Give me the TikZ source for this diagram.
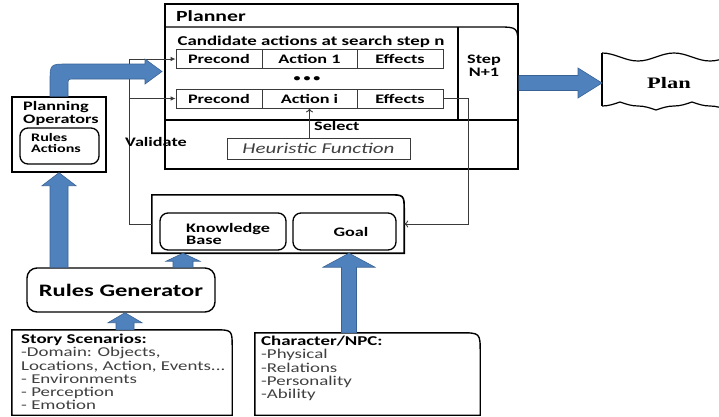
\documentclass[tikz,border=0pt]{standalone}
\usepackage{fontspec}
\setmainfont{Carlito}[FakeStretch=1.4]
\newfontfamily\planfont{Liberation Serif}[FakeStretch=1.4]
\usetikzlibrary{arrows.meta,fit,calc}
\definecolor{blk}{HTML}{4F81BD}
\definecolor{blkedge}{HTML}{3A6395}
\definecolor{conncol}{HTML}{3A3A3A}
\definecolor{txtgray}{HTML}{404040}
\begin{document}
\begin{tikzpicture}[x=1pt,y=-1pt,
  box/.style={draw=black, line width=1.4pt, inner sep=0pt},
  rbox/.style={draw=black, line width=1.3pt, rounded corners=8pt, inner sep=0pt},
  cell/.style={draw=conncol, line width=0.8pt, minimum height=19pt, inner sep=0pt,
    font=\fontsize{13}{15}\selectfont\bfseries},
  bt/.style={font=\fontsize{13}{13}\selectfont\bfseries, inner sep=0pt},
  conn/.style={draw=conncol, line width=0.9pt},
  fillarrow/.style={-{Latex[length=5pt,width=4.5pt]}},
  openarrow/.style={-{To[length=4pt,width=7pt]}},
  blkarrow/.style={fill=blk, draw=blkedge, line width=0.6pt},
  blkup/.style args={#1/#2/#3}{to path={let \p1=(\tikztostart), \p2=(\tikztotarget) in
    (\x1-#1,\y1) -- (\x1-#1,\y2-#3) -- (\x1-#2,\y2-#3) -- (\x1,\y2) -- (\x1+#2,\y2-#3)
    -- (\x1+#1,\y2-#3) -- (\x1+#1,\y1) -- cycle}},
  blkright/.style args={#1/#2/#3}{to path={let \p1=(\tikztostart), \p2=(\tikztotarget) in
    (\x1,\y1+#1) -- (\x2-#3,\y1+#1) -- (\x2-#3,\y1+#2) -- (\x2,\y1) -- (\x2-#3,\y1-#2)
    -- (\x2-#3,\y1-#1) -- (\x1,\y1-#1) -- cycle}},
]
\useasboundingbox (0,0) rectangle (719,416);
\fill[white] (0,0) rectangle (719,416);

% ---------- Planner ----------
\node[fit={(165,4)(518,169)}, draw=black, line width=1.8pt, inner sep=0pt] (planner) {};
\node[anchor=west, inner sep=0pt, font=\fontsize{15.5}{17}\selectfont\bfseries] (ptitle) at (176,16) {Planner};
\draw[line width=1.3pt] (165,27) -- (497,27) .. controls (518,27) .. (518,48);
\draw[line width=1.3pt] (165,120) -- (518,120);
\draw[line width=1.1pt] (458,27) -- (458,120);
\node[font=\fontsize{13.5}{15}\selectfont\bfseries, inner sep=0pt] (cand) at (311,42) {Candidate actions at search step n};

\node[cell, minimum width=86pt] (pc1) at (219,59) {Precond};
\node[cell, minimum width=95pt] (a1) at (309.5,59) {Action 1};
\node[cell, minimum width=86pt] (e1) at (400,59) {Effects};
\node[font=\fontsize{10}{10}\selectfont\bfseries, inner sep=0pt] (dots) at (307,79) {•\hspace{3pt}•\hspace{3pt}•};
\node[cell, minimum width=86pt] (pc2) at (219,98.5) {Precond};
\node[cell, minimum width=95pt] (ai) at (309.5,98.5) {Action i};
\node[cell, minimum width=86pt] (e2) at (400,98.5) {Effects};

\node[bt, align=center] (step) at (484,66) {Step\\N+1};
\node[bt, anchor=west] (sel) at (314,126) {Select};
\node[draw=conncol, line width=0.8pt, minimum width=183pt, minimum height=21pt, inner sep=0pt,
  font=\fontsize{15}{17}\selectfont\itshape, text=txtgray] (heur) at (318.5,148.5) {Heuristic Function};

% ---------- Planning operators ----------
\node[box, fit={(12,97)(106,172)}] (po) {};
\node[bt, anchor=west, align=left] (potitle) at (23,113.5) {Planning\\Operators};
\node[rbox, fit={(20,128)(99,164)}] (ra) {};
\node[anchor=west, align=left, inner sep=0pt, font=\fontsize{11.5}{11.5}\selectfont\bfseries] (ratext) at (31,143) {Rules\\Actions};

% ---------- Rules generator ----------
\node[draw=black, line width=1.4pt, rounded corners=10pt, minimum width=188pt, minimum height=44pt,
  inner sep=0pt, font=\fontsize{17.5}{20}\selectfont\bfseries] (rg) at (121,290) {Rules Generator};

% ---------- Knowledge container ----------
\node[fit={(152,195)(404,253)}, inner sep=0pt] (kbc) {};
\draw[line width=1.6pt] (kbc.south west) -- (kbc.north west) -- ([xshift=-16pt]kbc.north east)
  .. controls (kbc.north east) .. ([yshift=-16pt]kbc.north east) -- (kbc.south east) -- cycle;
\node[rbox, fit={(160,213)(286,250)}] (kb) {};
\node[bt, anchor=west, align=left, font=\fontsize{13}{12}\selectfont\bfseries] (kbtext) at (186,234) {Knowledge\\Base};
\node[rbox, fit={(293,213)(396,250)}] (goal) {};
\node[bt] (goaltext) at (351,232) {Goal};

% ---------- Story scenarios / Character boxes ----------
\node[fit={(12,330)(232,415)}, inner sep=0pt] (ss) {};
\draw[line width=1.4pt] (ss.south west) -- (ss.north west) -- ([xshift=-18pt]ss.north east)
  .. controls (ss.north east) .. ([yshift=-18pt]ss.north east) -- (ss.south east) -- cycle;
\node[fit={(255,333)(480,415)}, inner sep=0pt] (ch) {};
\draw[line width=1.4pt] (ch.south west) -- (ch.north west) -- ([xshift=-20pt]ch.north east)
  .. controls (ch.north east) .. ([yshift=-20pt]ch.north east) -- (ch.south east) -- cycle;

% ---------- Plan ----------
\node[inner sep=0pt, font=\planfont\fontsize{16}{18}\selectfont\bfseries] (plan) at (669,83) {Plan};
\draw[line width=1.2pt] (728,57) sin (710,61) cos (692,57) sin (674,53) cos (656,57) sin (638,61) cos (620,57) sin (602,53);
\draw[line width=1.2pt] (728,110) sin (710,106) cos (692,102) sin (674,106) cos (656,110) sin (638,106) cos (620,102) sin (602,106);
\coordinate (planw) at (602,83);
\draw[line width=1.2pt] (602,53) -- (602,106);

% ---------- thin connectors ----------
\coordinate (bus) at (129,0);
\coordinate (rbus) at (468,0);
\draw[conn, fillarrow] (pc1.west -| bus) -- (pc1.west);
\draw[conn, fillarrow] (pc2.west -| bus) -- (pc2.west);
\draw[conn] (pc1.west -| bus) -- (kbc.west -| bus) -- (kbc.west);
\draw[conn, openarrow] (e2.east) -- (e2.east -| rbus) -- (kbc.east -| rbus) -- (kbc.east);
\draw[conn, openarrow] (heur.north -| ai.south) -- (ai.south);

% ---------- block arrows ----------
\coordinate (xkb) at (183,0);
\coordinate (xss) at (125,0);
\coordinate (xch) at (349,0);
\path[blkarrow] (rg.north -| po.south) to[blkup=9pt/17pt/13pt] (po.south);
\path[blkarrow] (rg.north -| xkb) to[blkup=10pt/17pt/8pt] (kbc.south -| xkb);
\path[blkarrow] (ss.north -| xss) to[blkup=9pt/17pt/10pt] (rg.south -| xss);
\path[blkarrow] (ch.north -| xch) to[blkup=7.5pt/26pt/14pt] (kbc.south -| xch);
\path[blkarrow] (planner.east |- planw) to[blkright=7.5pt/15pt/24pt] (planw);
\coordinate (curvetip) at (162,71.5);
\path[blkarrow] (po.north -| 50,0) -- (50,82) .. controls (50,64) .. (68,64) -- (145,64) -- (145,59)
  -- (curvetip) -- (145,84) -- (145,79) -- (74,79) .. controls (68,79) .. (68,85) -- (po.north -| 68,0) -- cycle;

% ---------- texts drawn on top ----------
\node[bt] (val) at (156,142) {Validate};
\node[anchor=north west, align=left, inner sep=0pt, font=\fontsize{13.5}{13.2}\selectfont, text=txtgray] (sstext) at (21,334)
  {\textcolor{black}{\bfseries Story Scenarios:}\\-Domain: Objects,\\Locations, Action, Events...\\- Environments\\- Perception\\- Emotion};
\node[anchor=north west, align=left, inner sep=0pt, font=\fontsize{13.5}{13.2}\selectfont, text=txtgray] (chtext) at (261,336)
  {\textcolor{black}{\bfseries Character/NPC:}\\-Physical\\-Relations\\-Personality\\-Ability};
\end{tikzpicture}
\end{document}
